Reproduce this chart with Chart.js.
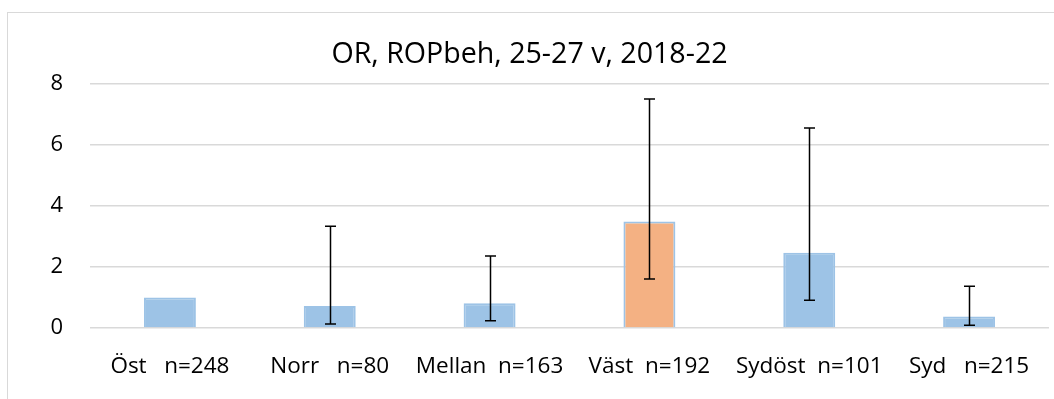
<!DOCTYPE html>
<html>
<head>
<meta charset="utf-8">
<script src="https://cdn.jsdelivr.net/npm/chart.js@4"></script>
<style>
html,body{margin:0;padding:0;background:#fff}
#wrap{width:1054px;height:399px;position:relative}
</style>
</head>
<body>
<div id="wrap"><canvas id="c"></canvas></div>
<script>
const labels=['Öst   n=248','Norr   n=80','Mellan  n=163','Väst  n=192','Sydöst  n=101','Syd   n=215'];
const orValues=[1.0,0.72,0.81,3.49,2.47,0.38];
const ciLow=[null,0.13,0.24,1.61,0.91,0.09];
const ciHigh=[null,3.34,2.36,7.51,6.56,1.37];
const barColors=['#9DC3E6','#9DC3E6','#9DC3E6','#F4B183','#9DC3E6','#9DC3E6'];
const yTicks=[0,2,4,6,8];

const FONT='"Open Sans", sans-serif';

// ram runt diagrammet + felstaplar
const extras={
 id:'extras',
 beforeDraw(ch){
  const g=ch.ctx;
  g.save();
  g.strokeStyle='#d9d9d9';g.lineWidth=1;
  g.strokeRect(7.5,12.5,1100,500);
  g.restore();
 },
 afterDatasetsDraw(ch){
  const g=ch.ctx, x=ch.scales.x, y=ch.scales.y;
  g.save();
  g.strokeStyle='#000';g.lineWidth=1.5;
  ciLow.forEach((lo,i)=>{
   if(lo==null)return;
   const px=Math.round(x.getPixelForValue(i))+0.5;
   const y1=y.getPixelForValue(lo), y2=y.getPixelForValue(ciHigh[i]);
   g.beginPath();
   g.moveTo(px,y1);g.lineTo(px,y2);
   g.moveTo(px-5.5,y1);g.lineTo(px+5.5,y1);
   g.moveTo(px-5.5,y2);g.lineTo(px+5.5,y2);
   g.stroke();
  });
  g.restore();
 }
};

new Chart(document.getElementById('c'),{
 type:'bar',
 data:{labels:labels,datasets:[{data:orValues,backgroundColor:barColors,borderColor:'#9DC3E6',borderWidth:2,borderSkipped:'bottom',categoryPercentage:1,barPercentage:0.325}]},
 options:{
  responsive:true,maintainAspectRatio:false,animation:false,
  layout:{padding:{left:10,right:5,top:0,bottom:0}},
  plugins:{
   legend:{display:false},tooltip:{enabled:false},
   title:{display:true,text:'OR, ROPbeh, 25-27 v, 2018-22',color:'#000',font:{family:FONT,size:28.6,weight:'normal'},padding:{top:37.8,bottom:11.9}}
  },
  scales:{
   x:{grid:{display:false},border:{display:false},
      ticks:{color:'#000',font:{family:FONT,size:22.5},padding:17,maxRotation:0,autoSkip:false},
      afterFit:s=>{s.height=71}},
   y:{min:0,max:8,afterBuildTicks:s=>{s.ticks=yTicks.map(v=>({value:v}))},
      grid:{color:'#d9d9d9',lineWidth:1.5,drawTicks:false},border:{display:false},
      ticks:{color:'#000',font:{family:FONT,size:22},padding:27},
      afterFit:s=>{s.width=80}}
  }
 },
 plugins:[extras]
});
</script>
</body>
</html>
